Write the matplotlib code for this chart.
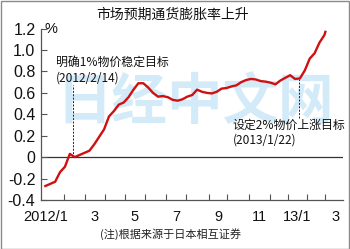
import numpy as np
import matplotlib
matplotlib.use('Agg')
import matplotlib.pyplot as plt
import matplotlib.transforms as mtransforms
from matplotlib.patches import Rectangle

plt.rcParams['font.family'] = ['Noto Sans CJK SC', 'DejaVu Sans']
plt.rcParams['axes.unicode_minus'] = False

# Tokyo trading calendar (first trading day 2012/1/4)
START_DAY = '2012-01-04'
HOLIDAYS = ['2012-01-02', '2012-01-03', '2012-01-09', '2012-03-20', '2012-04-30',
            '2012-05-03', '2012-05-04', '2012-07-16', '2012-09-17', '2012-10-08',
            '2012-11-23', '2012-12-24', '2012-12-31', '2013-01-01', '2013-01-02',
            '2013-01-03', '2013-01-14', '2013-02-11', '2013-03-20']

# Expected inflation (%), one reading every 5 trading days, last one on 2013/3/1
SAMPLE_DAY = list(range(0, 286, 5)) + [286]
EXPECTED_INFLATION = [
    -0.27, -0.25, -0.23, -0.14, -0.09, 0.03, 0.00, 0.02, 0.04, 0.06,
    0.12, 0.19, 0.26, 0.38, 0.43, 0.49, 0.51, 0.56, 0.63, 0.69,
    0.69, 0.65, 0.60, 0.565, 0.57, 0.56, 0.535, 0.527, 0.54, 0.565,
    0.58, 0.63, 0.61, 0.60, 0.595, 0.61, 0.64, 0.645, 0.66, 0.67,
    0.70, 0.72, 0.73, 0.725, 0.71, 0.705, 0.695, 0.68, 0.715, 0.74,
    0.765, 0.73, 0.735, 0.81, 0.92, 0.97, 1.07, 1.14, 1.17]

MONTHS = ['2012-01', '2012-02', '2012-03', '2012-04', '2012-05', '2012-06', '2012-07',
          '2012-08', '2012-09', '2012-10', '2012-11', '2012-12', '2013-01', '2013-02',
          '2013-03', '2013-04']
MONTH_LABELS = {'2012-01': '2012/1', '2012-03': '3', '2012-05': '5', '2012-07': '7',
                '2012-09': '9', '2012-11': '11', '2013-01': '13/1', '2013-03': '3'}

EVENT_DAYS = ['2012-02-14', '2013-01-22']
Y_TICKS = [-0.4, -0.2, 0, 0.2, 0.4, 0.6, 0.8, 1.0, 1.2]

TITLE = '市场预期通货膨胀率上升'
NOTE = '(注)根据来源于日本相互证券'
WATERMARK = '日经中文网'

RED = '#d01010'
AXIS_GREY = '#555555'


def trading_index(day):
    # number of trading days between the first day and `day`
    return int(np.busday_count(START_DAY, day, holidays=HOLIDAYS))


month_start = [max(trading_index(m + '-01'), 0) for m in MONTHS]
month_mid = [(a + b) / 2 for a, b in zip(month_start[:-1], month_start[1:])]
event_x = [trading_index(d) for d in EVENT_DAYS]

fig = plt.figure(figsize=(3.5, 2.49), dpi=100)
ax = fig.add_axes([0.117, 0.197, 0.863, 0.688])

# light blue watermark behind everything
ax.text(0.51, 0.566, WATERMARK, transform=ax.transAxes, ha='center', va='center',
        fontsize=40, fontweight='bold', color='#d3ebf9', zorder=0)

ax.axhline(0, color='#333333', lw=0.9, zorder=1)
ax.plot(SAMPLE_DAY, EXPECTED_INFLATION, color=RED, lw=1.7, zorder=3,
        solid_joinstyle='round')

# dashed markers for the two BOJ targets
ax.plot([event_x[0], event_x[0]], [0.0, 0.67], color='#222222', lw=0.7,
        ls=(0, (2, 1.5)), zorder=2)
ax.plot([event_x[1], event_x[1]], [0.37, 0.73], color='#222222', lw=0.7,
        ls=(0, (2, 1.5)), zorder=2)

ax.text(0.05, 0.805, '明确1%物价稳定目标', transform=ax.transAxes, fontsize=8.6,
        ha='left', va='center', color='#111111')
ax.text(0.05, 0.712, '(2012/2/14)', transform=ax.transAxes, fontsize=8.6,
        ha='left', va='center', color='#111111')
ax.text(0.635, 0.4375, '设定2%物价上涨目标', transform=ax.transAxes, fontsize=8.6,
        ha='left', va='center', color='#111111')
ax.text(0.635, 0.35, '(2013/1/22)', transform=ax.transAxes, fontsize=8.6,
        ha='left', va='center', color='#111111')

ax.set_xlim(-4.5, 304)
ax.set_ylim(-0.4, 1.2)

for side in ['top', 'right']:
    ax.spines[side].set_visible(False)
for side in ['left', 'bottom']:
    ax.spines[side].set_color(AXIS_GREY)
    ax.spines[side].set_linewidth(0.9)

ax.set_yticks(Y_TICKS)
ax.set_yticklabels(['0' if v == 0 else '%.1f' % v for v in Y_TICKS],
                   family=['Liberation Sans', 'DejaVu Sans'], fontsize=11.5)
ax.tick_params(axis='y', direction='in', length=4, width=0.8, color=AXIS_GREY,
               pad=4, labelcolor='#111111')

# month boundaries get ticks, odd months get labels in the middle
ax.set_xticks(month_start[1:-1])
ax.set_xticklabels([])
ax.tick_params(axis='x', which='major', direction='in', length=4, width=0.8,
               color=AXIS_GREY)
label_pos = [month_mid[i] for i, m in enumerate(MONTHS[:-1]) if m in MONTH_LABELS]
label_txt = [MONTH_LABELS[m] for m in MONTHS[:-1] if m in MONTH_LABELS]
ax.set_xticks(label_pos, minor=True)
ax.set_xticklabels(label_txt, minor=True,
                   family=['Liberation Sans Narrow', 'Liberation Sans', 'DejaVu Sans'],
                   fontsize=10.5, color='#111111')
ax.tick_params(axis='x', which='minor', length=0, pad=7)
first = ax.xaxis.get_minorticklabels()[0]
first.set_horizontalalignment('right')
first.set_transform(first.get_transform() +
                    mtransforms.ScaledTranslation(10 / 72, 0, fig.dpi_scale_trans))

ax.text(0.012, 1.2, '%', transform=mtransforms.blended_transform_factory(ax.transAxes, ax.transData),
        ha='left', va='center', fontsize=10.5, family=['Liberation Sans', 'DejaVu Sans'],
        color='#111111')

fig.text(0.493, 0.94, TITLE, ha='center', va='center', fontsize=10, color='#111111')
fig.text(0.486, 0.06, NOTE, ha='center', va='center', fontsize=8, color='#222222')

# thin grey frame round the picture
fig.add_artist(Rectangle((0.002, 0.002), 0.995, 0.995, transform=fig.transFigure,
                         fill=False, edgecolor='#8a8a8a', lw=1.0))

fig.savefig('out.png', dpi=100)
